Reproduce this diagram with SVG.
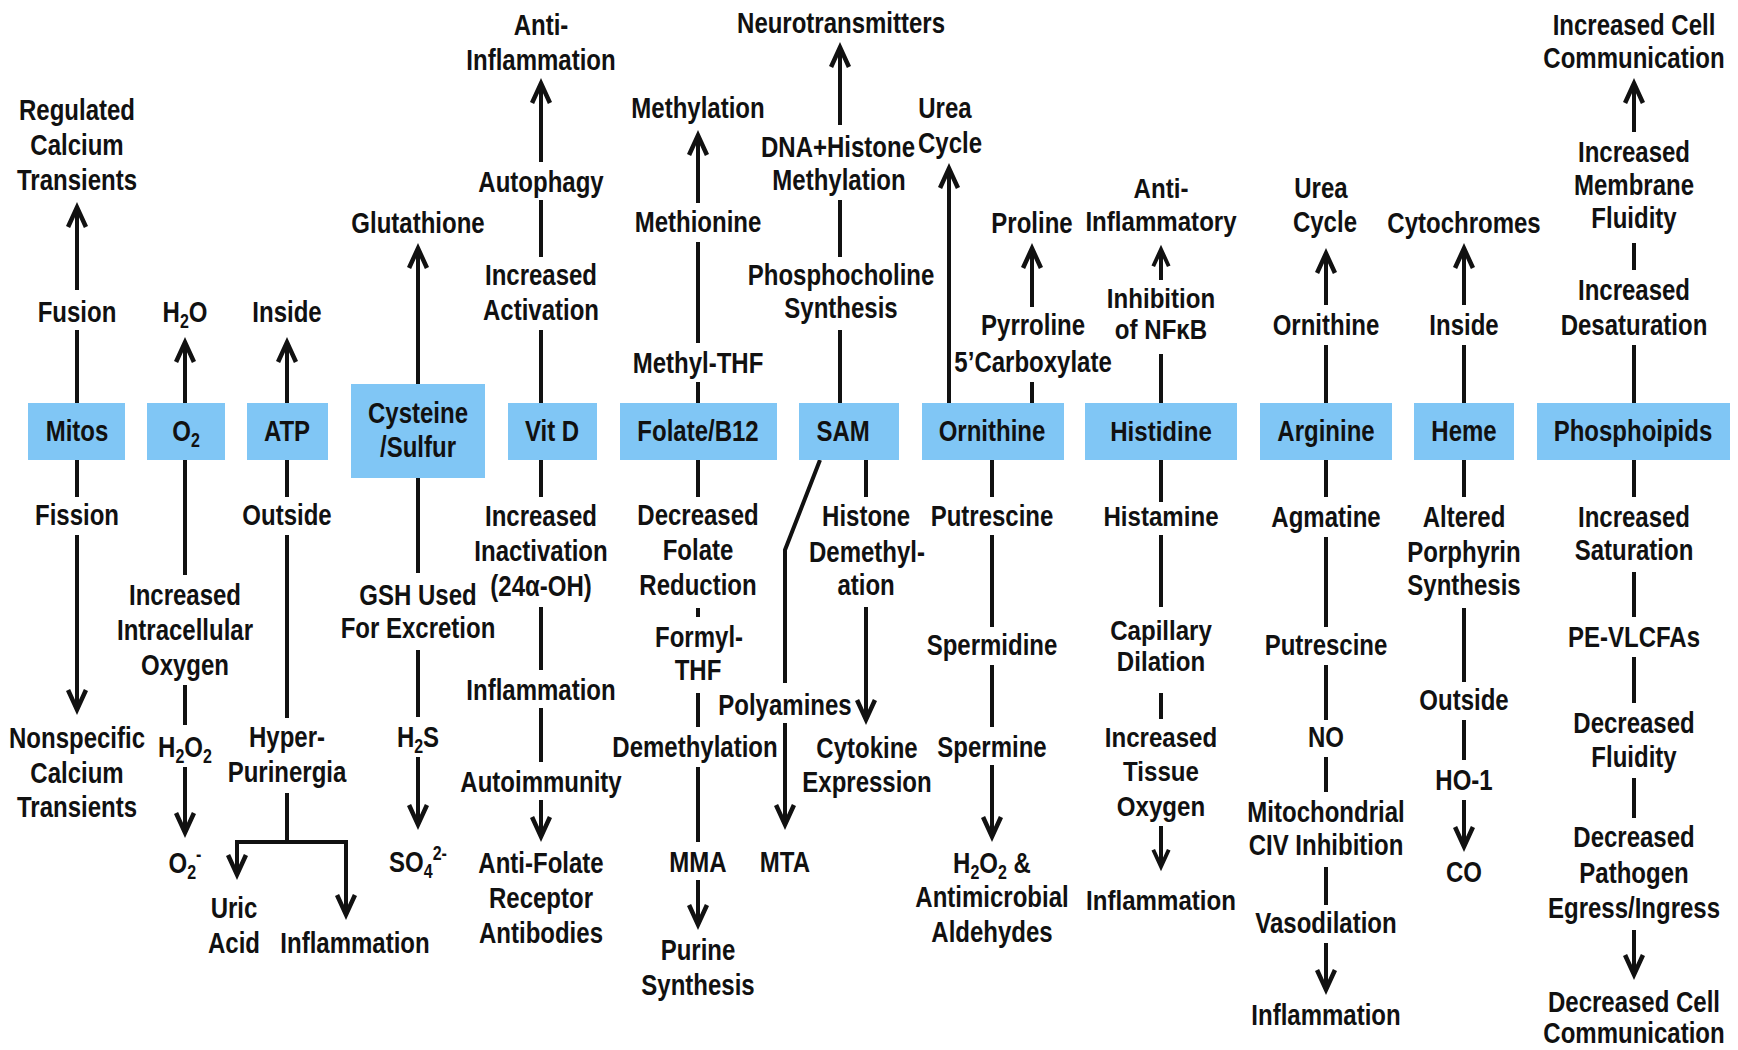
<svg xmlns="http://www.w3.org/2000/svg" width="1738" height="1050" viewBox="0 0 1738 1050">
<style>
.t{font-family:'Liberation Sans',Arial,sans-serif;font-weight:bold;font-size:30px;fill:#111;text-anchor:middle}
.h{font-family:'Liberation Sans',Arial,sans-serif;font-weight:bold;font-size:28px;fill:#111;text-anchor:middle}
.box{fill:#80c6f5}
.ln{stroke:#111;stroke-width:4;fill:none;stroke-linejoin:miter}
.ar{marker-end:url(#ah)}
.as{marker-end:url(#ahs)}
.s{font-size:20px}
</style>
<defs>
<marker id="ah" viewBox="-28 -13 30 26" markerWidth="30" markerHeight="26" refX="-5" refY="0" orient="auto" markerUnits="userSpaceOnUse">
<path d="M0,0 L-24,-11 L-25.9,-6.9 L-10.8,0 L-25.9,6.9 L-24,11 Z" fill="#111"/>
</marker>
<marker id="ahs" viewBox="-28 -13 30 26" markerWidth="26" markerHeight="22.5" refX="-5" refY="0" orient="auto" markerUnits="userSpaceOnUse">
<path d="M0,0 L-24,-11 L-25.9,-6.9 L-10.8,0 L-25.9,6.9 L-24,11 Z" fill="#111"/>
</marker>
</defs>
<rect width="1738" height="1050" fill="#fff"/>

<g id="connectors">
<path class="ln ar" d="M77,290 V207"/>
<path class="ln" d="M77,330 V403"/>
<path class="ln" d="M77,460 V497"/>
<path class="ln ar" d="M77,535 V710"/>
<path class="ln ar" d="M185,403 V342"/>
<path class="ln" d="M185,460 V575"/>
<path class="ln" d="M185,685 V725"/>
<path class="ln ar" d="M185,767 V833"/>
<path class="ln ar" d="M287,403 V342"/>
<path class="ln" d="M287,460 V497"/>
<path class="ln" d="M287,535 V718"/>
<path class="ln" d="M287,793 V842"/>
<path class="ln ar" d="M287,842 H237 V875"/>
<path class="ln ar" d="M287,842 H346 V915"/>
<path class="ln ar" d="M418,384 V248"/>
<path class="ln" d="M418,478 V573"/>
<path class="ln" d="M418,650 V717"/>
<path class="ln ar" d="M418,757 V825"/>
<path class="ln ar" d="M541,162 V83"/>
<path class="ln" d="M541,200 V257"/>
<path class="ln" d="M541,330 V403"/>
<path class="ln" d="M541,460 V497"/>
<path class="ln" d="M541,607 V670"/>
<path class="ln" d="M541,708 V762"/>
<path class="ln ar" d="M541,800 V837"/>
<path class="ln ar" d="M698,203 V135"/>
<path class="ln" d="M698,242 V343"/>
<path class="ln" d="M698,382 V403"/>
<path class="ln" d="M698,460 V497"/>
<path class="ln" d="M698,608 V617"/>
<path class="ln" d="M698,693 V727"/>
<path class="ln" d="M698,767 V842"/>
<path class="ln ar" d="M698,880 V925"/>
<path class="ln ar" d="M840,125 V47"/>
<path class="ln" d="M840,200 V257"/>
<path class="ln" d="M840,330 V403"/>
<path class="ln" d="M820,460 L785,550 V683"/>
<path class="ln ar" d="M785,723 V825"/>
<path class="ln" d="M866,460 V497"/>
<path class="ln ar" d="M866,607 V720"/>
<path class="ln ar" d="M949,403 V168"/>
<path class="ln ar" d="M1032,307 V248"/>
<path class="ln" d="M1032,382 V403"/>
<path class="ln" d="M992,460 V497"/>
<path class="ln" d="M992,535 V627"/>
<path class="ln" d="M992,665 V727"/>
<path class="ln ar" d="M992,765 V837"/>
<path class="ln as" d="M1161,280 V249"/>
<path class="ln" d="M1161,354 V403"/>
<path class="ln" d="M1161,460 V502"/>
<path class="ln" d="M1161,535 V607"/>
<path class="ln" d="M1161,693 V719"/>
<path class="ln as" d="M1161,826 V867"/>
<path class="ln ar" d="M1326,305 V253"/>
<path class="ln" d="M1326,345 V403"/>
<path class="ln" d="M1326,460 V497"/>
<path class="ln" d="M1326,537 V627"/>
<path class="ln" d="M1326,665 V720"/>
<path class="ln" d="M1326,757 V792"/>
<path class="ln" d="M1326,867 V905"/>
<path class="ln ar" d="M1326,943 V990"/>
<path class="ln ar" d="M1464,305 V248"/>
<path class="ln" d="M1464,345 V403"/>
<path class="ln" d="M1464,460 V497"/>
<path class="ln" d="M1464,608 V682"/>
<path class="ln" d="M1464,720 V760"/>
<path class="ln ar" d="M1464,800 V847"/>
<path class="ln ar" d="M1634,132 V83"/>
<path class="ln" d="M1634,243 V270"/>
<path class="ln" d="M1634,345 V403"/>
<path class="ln" d="M1634,460 V497"/>
<path class="ln" d="M1634,572 V617"/>
<path class="ln" d="M1634,657 V703"/>
<path class="ln" d="M1634,778 V818"/>
<path class="ln ar" d="M1634,930 V975"/>
</g>

<g id="col-mitos">
<rect class="box" x="28" y="403" width="97" height="57"/>
<g transform="translate(77,0) scale(0.8,1)">
<text class="t" x="0" y="441">Mitos</text>
<text class="t" x="0" y="120">Regulated</text>
<text class="t" x="0" y="155">Calcium</text>
<text class="t" x="0" y="190">Transients</text>
<text class="t" x="0" y="322">Fusion</text>
<text class="t" x="0" y="525">Fission</text>
<text class="t" x="0" y="748">Nonspecific</text>
<text class="t" x="0" y="783">Calcium</text>
<text class="t" x="0" y="817">Transients</text>
</g>
</g>

<g id="col-o2">
<rect class="box" x="147" y="403" width="78" height="57"/>
<g transform="translate(185,0) scale(0.8,1)">
<text class="t" x="1.3" y="441">O<tspan class="s" dy="6">2</tspan></text>
<text class="t" x="0" y="322">H<tspan class="s" dy="6">2</tspan><tspan dy="-6">O</tspan></text>
<text class="t" x="0" y="605">Increased</text>
<text class="t" x="0" y="640">Intracellular</text>
<text class="t" x="0" y="675">Oxygen</text>
<text class="t" x="0" y="757">H<tspan class="s" dy="6">2</tspan><tspan dy="-6">O</tspan><tspan class="s" dy="6">2</tspan></text>
<text class="t" x="0" y="873">O<tspan class="s" dy="6">2</tspan><tspan class="s" dy="-18">-</tspan></text>
</g>
</g>

<g id="col-atp">
<rect class="box" x="247" y="403" width="81" height="57"/>
<g transform="translate(287,0) scale(0.8,1)">
<text class="t" x="0" y="441">ATP</text>
<text class="t" x="0" y="322">Inside</text>
<text class="t" x="0" y="525">Outside</text>
<text class="t" x="0" y="747">Hyper-</text>
<text class="t" x="0" y="782">Purinergia</text>
<text class="t" x="-66.3" y="918">Uric</text>
<text class="t" x="-66.3" y="953">Acid</text>
<text class="t" x="85" y="953">Inflammation</text>
</g>
</g>

<g id="col-cysteine">
<rect class="box" x="351" y="384" width="134" height="94"/>
<g transform="translate(418,0) scale(0.8,1)">
<text class="t" x="0" y="423">Cysteine</text>
<text class="t" x="0" y="457">/Sulfur</text>
<text class="t" x="0" y="233">Glutathione</text>
<text class="t" x="0" y="605">GSH Used</text>
<text class="t" x="0" y="638">For Excretion</text>
<text class="t" x="0" y="747">H<tspan class="s" dy="6">2</tspan><tspan dy="-6">S</tspan></text>
<text class="t" x="0" y="872">SO<tspan class="s" dy="6">4</tspan><tspan class="s" dy="-18">2-</tspan></text>
</g>
</g>

<g id="col-vitd">
<rect class="box" x="508" y="403" width="89" height="57"/>
<g transform="translate(541,0) scale(0.8,1)">
<text class="t" x="13.8" y="441">Vit D</text>
<text class="t" x="0" y="35">Anti-</text>
<text class="t" x="0" y="70">Inflammation</text>
<text class="t" x="0" y="192">Autophagy</text>
<text class="t" x="0" y="285">Increased</text>
<text class="t" x="0" y="320">Activation</text>
<text class="t" x="0" y="526">Increased</text>
<text class="t" x="0" y="561">Inactivation</text>
<text class="t" x="0" y="596">(24α-OH)</text>
<text class="t" x="0" y="700">Inflammation</text>
<text class="t" x="0" y="792">Autoimmunity</text>
<text class="t" x="0" y="873">Anti-Folate</text>
<text class="t" x="0" y="908">Receptor</text>
<text class="t" x="0" y="943">Antibodies</text>
</g>
</g>

<g id="col-folate">
<rect class="box" x="620" y="403" width="157" height="57"/>
<g transform="translate(698,0) scale(0.8,1)">
<text class="t" x="0" y="441">Folate/B12</text>
<text class="t" x="0" y="118">Methylation</text>
<text class="t" x="0" y="232">Methionine</text>
<text class="t" x="0" y="373">Methyl-THF</text>
<text class="t" x="0" y="525">Decreased</text>
<text class="t" x="0" y="560">Folate</text>
<text class="t" x="0" y="595">Reduction</text>
<text class="t" x="1.3" y="647">Formyl-</text>
<text class="t" x="0" y="680">THF</text>
<text class="t" x="-3.8" y="757">Demethylation</text>
<text class="t" x="0" y="872">MMA</text>
<text class="t" x="0" y="960">Purine</text>
<text class="t" x="0" y="995">Synthesis</text>
</g>
</g>

<g id="col-sam">
<rect class="box" x="799" y="403" width="100" height="57"/>
<g transform="translate(840,0) scale(0.8,1)">
<text class="t" x="3.8" y="441">SAM</text>
<text class="t" x="1.3" y="33">Neurotransmitters</text>
<text class="t" x="-2.5" y="157">DNA+Histone</text>
<text class="t" x="-1.3" y="190">Methylation</text>
<text class="t" x="1.3" y="285">Phosphocholine</text>
<text class="t" x="1.3" y="318">Synthesis</text>
<text class="t" x="32.6" y="526">Histone</text>
<text class="t" x="33.7" y="562">Demethyl-</text>
<text class="t" x="32.6" y="595">ation</text>
<text class="t" x="-68.8" y="715">Polyamines</text>
<text class="t" x="33.7" y="758">Cytokine</text>
<text class="t" x="33.7" y="792">Expression</text>
<text class="t" x="-68.8" y="872">MTA</text>
</g>
</g>

<g id="col-ornithine">
<rect class="box" x="922" y="403" width="142" height="57"/>
<g transform="translate(992,0) scale(0.8,1)">
<text class="t" x="0" y="441">Ornithine</text>
<text class="t" x="-58.8" y="118">Urea</text>
<text class="t" x="-52.5" y="153">Cycle</text>
<text class="t" x="50" y="233">Proline</text>
<text class="t" x="51.3" y="335">Pyrroline</text>
<text class="t" x="51.3" y="372">5’Carboxylate</text>
<text class="t" x="0" y="526">Putrescine</text>
<text class="t" x="0" y="655">Spermidine</text>
<text class="t" x="0" y="757">Spermine</text>
<text class="t" x="0" y="873">H<tspan class="s" dy="6">2</tspan><tspan dy="-6">O</tspan><tspan class="s" dy="6">2</tspan><tspan dy="-6"> &amp;</tspan></text>
<text class="t" x="0" y="907">Antimicrobial</text>
<text class="t" x="0" y="942">Aldehydes</text>
</g>
</g>

<g id="col-histidine">
<rect class="box" x="1085" y="403" width="152" height="57"/>
<g transform="translate(1161,0) scale(0.86,1)">
<text class="h" x="0" y="441">Histidine</text>
<text class="h" x="0" y="198">Anti-</text>
<text class="h" x="0" y="231">Inflammatory</text>
<text class="h" x="0" y="308">Inhibition</text>
<text class="h" x="0" y="339">of NFκB</text>
<text class="h" x="0" y="526">Histamine</text>
<text class="h" x="0" y="640">Capillary</text>
<text class="h" x="0" y="671">Dilation</text>
<text class="h" x="0" y="747">Increased</text>
<text class="h" x="0" y="781">Tissue</text>
<text class="h" x="0" y="816">Oxygen</text>
<text class="h" x="0" y="910">Inflammation</text>
</g>
</g>

<g id="col-arginine">
<rect class="box" x="1260" y="403" width="132" height="57"/>
<g transform="translate(1326,0) scale(0.8,1)">
<text class="t" x="0" y="441">Arginine</text>
<text class="t" x="-6.3" y="198">Urea</text>
<text class="t" x="-1.3" y="232">Cycle</text>
<text class="t" x="0" y="335">Ornithine</text>
<text class="t" x="0" y="527">Agmatine</text>
<text class="t" x="0" y="655">Putrescine</text>
<text class="t" x="0" y="747">NO</text>
<text class="t" x="0" y="822">Mitochondrial</text>
<text class="t" x="0" y="855">CIV Inhibition</text>
<text class="t" x="0" y="933">Vasodilation</text>
<text class="t" x="0" y="1025">Inflammation</text>
</g>
</g>

<g id="col-heme">
<rect class="box" x="1414" y="403" width="100" height="57"/>
<g transform="translate(1464,0) scale(0.8,1)">
<text class="t" x="0" y="441">Heme</text>
<text class="t" x="0" y="233">Cytochromes</text>
<text class="t" x="0" y="335">Inside</text>
<text class="t" x="0" y="527">Altered</text>
<text class="t" x="0" y="562">Porphyrin</text>
<text class="t" x="0" y="595">Synthesis</text>
<text class="t" x="0" y="710">Outside</text>
<text class="t" x="0" y="790">HO-1</text>
<text class="t" x="0" y="882">CO</text>
</g>
</g>

<g id="col-phospholipids">
<rect class="box" x="1537" y="403" width="193" height="57"/>
<g transform="translate(1634,0) scale(0.8,1)">
<text class="t" x="-1.3" y="441">Phosphoipids</text>
<text class="t" x="0" y="35">Increased Cell</text>
<text class="t" x="0" y="68">Communication</text>
<text class="t" x="0" y="162">Increased</text>
<text class="t" x="0" y="195">Membrane</text>
<text class="t" x="0" y="228">Fluidity</text>
<text class="t" x="0" y="300">Increased</text>
<text class="t" x="0" y="335">Desaturation</text>
<text class="t" x="0" y="527">Increased</text>
<text class="t" x="0" y="560">Saturation</text>
<text class="t" x="0" y="647">PE-VLCFAs</text>
<text class="t" x="0" y="733">Decreased</text>
<text class="t" x="0" y="767">Fluidity</text>
<text class="t" x="0" y="847">Decreased</text>
<text class="t" x="0" y="883">Pathogen</text>
<text class="t" x="0" y="918">Egress/Ingress</text>
<text class="t" x="0" y="1012">Decreased Cell</text>
<text class="t" x="0" y="1043">Communication</text>
</g>
</g>
</svg>
